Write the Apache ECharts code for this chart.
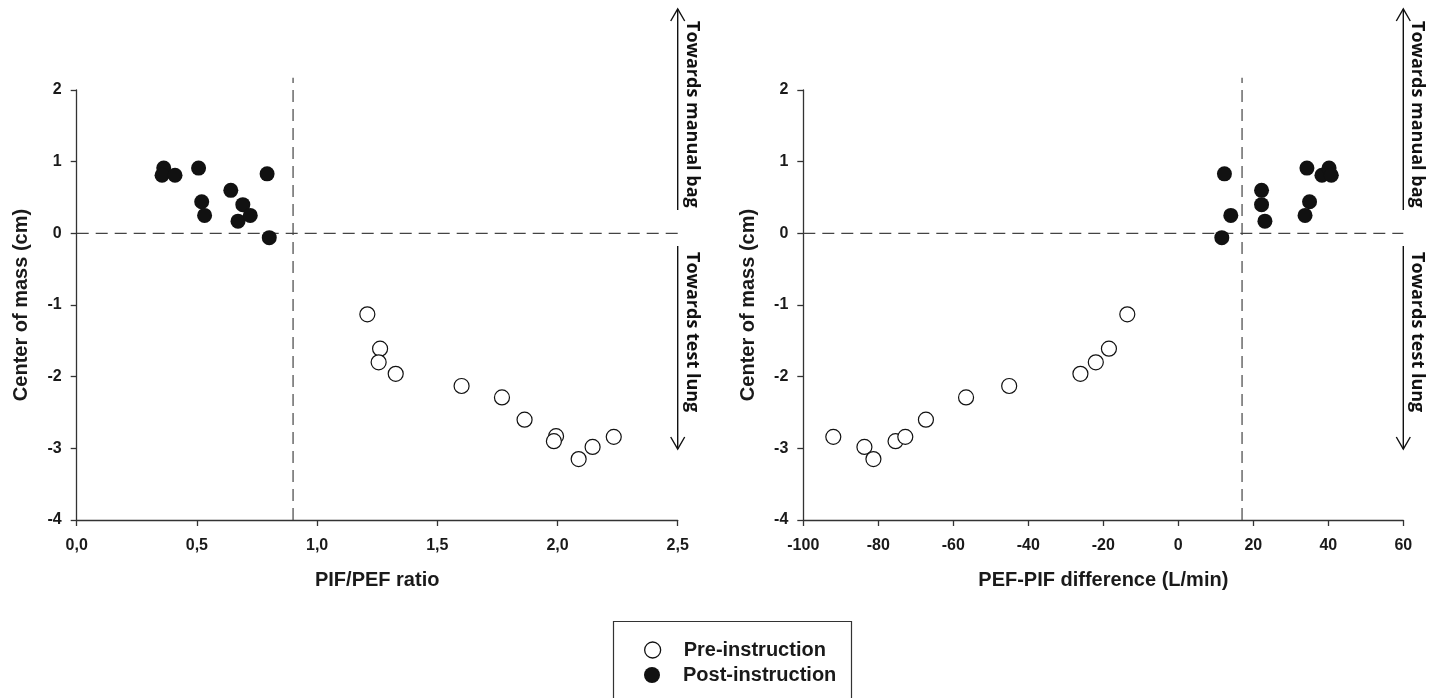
<!DOCTYPE html>
<html>
<head>
<meta charset="utf-8">
<script src="https://cdn.jsdelivr.net/npm/echarts@6/dist/echarts.min.js"></script>
<style>
html,body{margin:0;padding:0;background:#fff;}
#chart{width:1440px;height:698px;}
</style>
</head>
<body>
<div id="chart"></div>
<script>
// ---- Data ----
// Left panel: PIF/PEF ratio vs center of mass (cm)
const ratioPre = [1.209, 1.262, 1.256, 1.327, 1.601, 1.769, 1.863, 1.994, 1.985, 2.088, 2.146, 2.234];
const comPreLeft = [-1.13, -1.61, -1.80, -1.96, -2.13, -2.29, -2.60, -2.83, -2.90, -3.15, -2.98, -2.84];
const ratioPost = [0.362, 0.355, 0.409, 0.507, 0.520, 0.532, 0.641, 0.691, 0.671, 0.722, 0.792, 0.801];
const comPostLeft = [0.91, 0.81, 0.81, 0.91, 0.44, 0.25, 0.60, 0.40, 0.17, 0.25, 0.83, -0.06];
// Right panel: PEF-PIF difference (L/min) vs center of mass (cm)
const diffPre = [-92.0, -83.7, -81.3, -75.4, -72.8, -67.3, -56.6, -45.1, -26.1, -22.0, -18.5, -13.6];
const comPreRight = [-2.84, -2.98, -3.15, -2.90, -2.84, -2.60, -2.29, -2.13, -1.96, -1.80, -1.61, -1.13];
const diffPost = [12.3, 14.0, 11.6, 22.2, 22.2, 23.1, 34.3, 35.0, 33.8, 38.3, 40.2, 40.8];
const comPostRight = [0.83, 0.25, -0.06, 0.60, 0.40, 0.17, 0.91, 0.44, 0.25, 0.81, 0.91, 0.81];
// Reference (cut-off) lines
const cutoffRatio = 0.9;
const cutoffDiff = 17;
const refTopY = 2.17;
// Axis ranges / tick settings
const yMin = -4, yMax = 2, yStep = 1;
const ratioMin = 0, ratioMax = 2.5, ratioStep = 0.5;
const diffMin = -100, diffMax = 60, diffStep = 20;
// Texts
const seriesNames = ['Pre-instruction', 'Post-instruction'];
const yTitle = 'Center of mass (cm)';
const xTitleLeft = 'PIF/PEF ratio';
const xTitleRight = 'PEF-PIF difference (L/min)';
const arrowUpText = 'Towards manual bag';
const arrowDownText = 'Towards test lung';

const zip = (a, b) => a.map((v, i) => [v, b[i]]);

const FONT = '"Liberation Sans", Arial, sans-serif';
const axisColor = '#333';
const textColor = '#1a1a1a';

function yAxisCfg(gridIndex) {
  return {
    type: 'value', gridIndex, min: yMin, max: yMax, interval: yStep,
    name: yTitle, nameLocation: 'middle', nameGap: 45,
    nameTextStyle: { fontFamily: FONT, fontWeight: 'bold', fontSize: 20, color: textColor },
    axisLine: { show: true, onZero: false, lineStyle: { color: axisColor, width: 1.3 } },
    axisTick: { show: true, length: 6, lineStyle: { color: axisColor, width: 1.3 } },
    axisLabel: { fontFamily: FONT, fontWeight: 'bold', fontSize: 16, color: textColor, margin: 15 },
    splitLine: { show: false }
  };
}
function xAxisCfg(gridIndex, min, max, step, name, fmt) {
  return {
    type: 'value', gridIndex, min, max, interval: step,
    name, nameLocation: 'middle', nameGap: 50,
    nameTextStyle: { fontFamily: FONT, fontWeight: 'bold', fontSize: 20, color: textColor },
    axisLine: { show: true, onZero: false, lineStyle: { color: axisColor, width: 1.3 } },
    axisTick: { show: true, length: 6, lineStyle: { color: axisColor, width: 1.3 } },
    axisLabel: { fontFamily: FONT, fontWeight: 'bold', fontSize: 16, color: textColor, margin: 18, formatter: fmt },
    splitLine: { show: false }
  };
}

const preStyle = { color: '#ffffff', borderColor: '#111', borderWidth: 1.2, opacity: 1 };
const postStyle = { color: '#111111', borderColor: '#111', borderWidth: 0, opacity: 1 };
const refLine = { color: '#444', width: 1.2, type: [12, 7] };

function scatter(name, xi, data, style) {
  return { name, type: 'scatter', xAxisIndex: xi, yAxisIndex: xi, data, symbol: 'circle', symbolSize: 15,
    itemStyle: style, emphasis: { disabled: true }, z: 5 };
}
function ref(xi, data) {
  return { type: 'line', xAxisIndex: xi, yAxisIndex: xi, data, symbol: 'none', clip: false, silent: true,
    lineStyle: refLine, z: 2, animation: false };
}
function legendRow(name, style, top) {
  return {
    data: [{ name, itemStyle: style }],
    left: 644, top, padding: 0,
    icon: 'circle', itemWidth: 52, itemHeight: 16,
    textStyle: { fontFamily: FONT, fontWeight: 'bold', fontSize: 20, color: textColor },
    selectedMode: false
  };
}

const chart = echarts.init(document.getElementById('chart'), null, { renderer: 'canvas' });
chart.setOption({
  animation: false,
  backgroundColor: '#fff',
  grid: [
    { left: 76.7, right: 762.3, top: 90, bottom: 178 },
    { left: 803.3, right: 36.7, top: 90, bottom: 178 }
  ],
  xAxis: [
    xAxisCfg(0, ratioMin, ratioMax, ratioStep, xTitleLeft, v => v.toFixed(1).replace('.', ',')),
    xAxisCfg(1, diffMin, diffMax, diffStep, xTitleRight, v => String(v))
  ],
  yAxis: [yAxisCfg(0), yAxisCfg(1)],
  legend: [
    legendRow(seriesNames[0], { color: '#fff', borderColor: '#111', borderWidth: 1.3 }, 640),
    legendRow(seriesNames[1], { color: '#111', borderWidth: 0 }, 665)
  ],
  series: [
    ref(0, [[ratioMin, 0], [ratioMax, 0]]),
    ref(0, [[cutoffRatio, yMin], [cutoffRatio, refTopY]]),
    ref(1, [[diffMin, 0], [diffMax, 0]]),
    ref(1, [[cutoffDiff, yMin], [cutoffDiff, refTopY]]),
    scatter(seriesNames[0], 0, zip(ratioPre, comPreLeft), preStyle),
    scatter(seriesNames[1], 0, zip(ratioPost, comPostLeft), postStyle),
    scatter(seriesNames[0], 1, zip(diffPre, comPreRight), preStyle),
    scatter(seriesNames[1], 1, zip(diffPost, comPostRight), postStyle)
  ]
});

// Direction arrows with rotated captions at the right end of each panel
function arrows(xIndex, xVal) {
  const ax = chart.convertToPixel({ xAxisIndex: xIndex }, xVal);
  const ls = { stroke: '#111', lineWidth: 1.4, fill: null };
  const tf = { fontFamily: '"Open Sans", sans-serif', fontWeight: 'bold', fontSize: 18, fill: '#111' };
  return [
    { type: 'line', shape: { x1: ax, y1: 9, x2: ax, y2: 210 }, style: ls },
    { type: 'polyline', shape: { points: [[ax - 7, 21], [ax, 9], [ax + 7, 21]] }, style: ls },
    { type: 'line', shape: { x1: ax, y1: 246, x2: ax, y2: 449 }, style: ls },
    { type: 'polyline', shape: { points: [[ax - 7, 437], [ax, 449], [ax + 7, 437]] }, style: ls },
    { type: 'text', x: ax + 14, y: 21, rotation: -Math.PI / 2,
      style: Object.assign({ text: arrowUpText, align: 'left', verticalAlign: 'middle' }, tf) },
    { type: 'text', x: ax + 14, y: 252, rotation: -Math.PI / 2,
      style: Object.assign({ text: arrowDownText, align: 'left', verticalAlign: 'middle' }, tf) }
  ];
}
const legendBox = {
  type: 'rect', shape: { x: 613.5, y: 621.5, width: 238, height: 90 },
  style: { fill: null, stroke: '#333', lineWidth: 1.2 }, silent: true
};
chart.setOption({ graphic: arrows(0, ratioMax).concat(arrows(1, diffMax)).concat([legendBox]) });
</script>
</body>
</html>
